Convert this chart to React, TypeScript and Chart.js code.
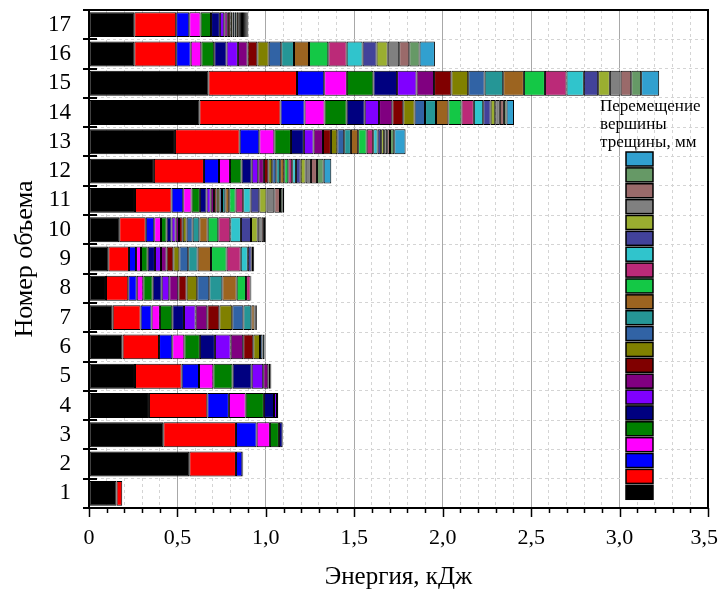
import React, { useEffect, useRef } from 'react';
import { Chart, registerables } from 'chart.js';

Chart.register(...registerables);

// ---- data -------------------------------------------------------------
const volumeLabels = ['1', '2', '3', '4', '5', '6', '7', '8', '9', '10', '11', '12', '13', '14', '15', '16', '17'];

const xTickValues = [
  0, 0.1, 0.2, 0.3, 0.4, 0.5, 0.6, 0.7, 0.8, 0.9,
  1.0, 1.1, 1.2, 1.3, 1.4, 1.5, 1.6, 1.7, 1.8, 1.9,
  2.0, 2.1, 2.2, 2.3, 2.4, 2.5, 2.6, 2.7, 2.8, 2.9,
  3.0, 3.1, 3.2, 3.3, 3.4, 3.5,
];

const xAxisTitle = 'Энергия, кДж';
const yAxisTitle = 'Номер объема';
const legendTitleLines = ['Перемещение', 'вершины', 'трещины, мм'];

const seriesColors = [
  '#000000', '#ff0000', '#0000ff', '#ff00ff', '#008000', '#000080',
  '#8000ff', '#800080', '#800000', '#808000', '#3163a5', '#259696',
  '#9c6420', '#14c846', '#bb2a78', '#30c4cc', '#42429a', '#9aae30',
  '#808080', '#9a6a6a', '#669966', '#31a0cf',
];

// energy (kJ) of each crack-tip displacement step, per volume 1..17
const s01 = [0.156, 0.567, 0.420, 0.339, 0.260, 0.190, 0.134, 0.096, 0.109, 0.171, 0.260, 0.367, 0.486, 0.624, 0.675, 0.256, 0.256];
const s02 = [0.032, 0.264, 0.411, 0.330, 0.264, 0.206, 0.158, 0.126, 0.117, 0.150, 0.207, 0.283, 0.366, 0.459, 0.501, 0.237, 0.237];
const s03 = [0, 0.036, 0.117, 0.122, 0.098, 0.075, 0.062, 0.048, 0.040, 0.048, 0.066, 0.085, 0.111, 0.136, 0.154, 0.082, 0.074];
const s04 = [0, 0.005, 0.075, 0.095, 0.081, 0.068, 0.047, 0.037, 0.028, 0.038, 0.047, 0.062, 0.085, 0.113, 0.128, 0.060, 0.064];
const s05 = [0, 0, 0.051, 0.103, 0.109, 0.088, 0.070, 0.053, 0.038, 0.032, 0.047, 0.066, 0.094, 0.125, 0.150, 0.073, 0.059];
const s06 = [0, 0, 0.021, 0.057, 0.108, 0.085, 0.066, 0.051, 0.041, 0.028, 0.038, 0.057, 0.073, 0.102, 0.134, 0.070, 0.050];
const s07 = [0, 0, 0, 0.017, 0.065, 0.089, 0.066, 0.043, 0.034, 0.023, 0.023, 0.037, 0.055, 0.081, 0.110, 0.064, 0.025];
const s08 = [0, 0, 0, 0.007, 0.029, 0.071, 0.066, 0.051, 0.032, 0.019, 0.019, 0.032, 0.053, 0.075, 0.099, 0.055, 0.020];
const s09 = [0, 0, 0, 0, 0.011, 0.057, 0.068, 0.047, 0.038, 0.021, 0.015, 0.025, 0.045, 0.062, 0.098, 0.055, 0.014];
const s10 = [0, 0, 0, 0, 0.006, 0.038, 0.073, 0.060, 0.034, 0.022, 0.015, 0.022, 0.036, 0.064, 0.095, 0.064, 0.012];
const s11 = [0, 0, 0, 0, 0, 0.014, 0.063, 0.068, 0.050, 0.034, 0.015, 0.023, 0.039, 0.059, 0.093, 0.071, 0.012];
const s12 = [0, 0, 0, 0, 0, 0.012, 0.045, 0.074, 0.053, 0.038, 0.019, 0.022, 0.038, 0.062, 0.105, 0.072, 0.012];
const s13 = [0, 0, 0, 0, 0, 0, 0.018, 0.081, 0.076, 0.047, 0.022, 0.023, 0.041, 0.070, 0.117, 0.085, 0.012];
const s14 = [0, 0, 0, 0, 0, 0, 0.007, 0.053, 0.088, 0.060, 0.036, 0.023, 0.048, 0.074, 0.119, 0.109, 0.006];
const s15 = [0, 0, 0, 0, 0, 0, 0.006, 0.026, 0.080, 0.068, 0.043, 0.022, 0.037, 0.070, 0.122, 0.104, 0.006];
const s16 = [0, 0, 0, 0, 0, 0, 0, 0.004, 0.040, 0.060, 0.042, 0.021, 0.025, 0.053, 0.098, 0.090, 0.006];
const s17 = [0, 0, 0, 0, 0, 0, 0, 0, 0.022, 0.057, 0.049, 0.027, 0.020, 0.042, 0.081, 0.079, 0.006];
const s18 = [0, 0, 0, 0, 0, 0, 0, 0, 0.008, 0.038, 0.041, 0.028, 0.017, 0.026, 0.066, 0.063, 0.006];
const s19 = [0, 0, 0, 0, 0, 0, 0, 0, 0.006, 0.022, 0.044, 0.030, 0.017, 0.026, 0.061, 0.065, 0.006];
const s20 = [0, 0, 0, 0, 0, 0, 0, 0, 0, 0.013, 0.032, 0.034, 0.016, 0.023, 0.060, 0.057, 0.006];
const s21 = [0, 0, 0, 0, 0, 0, 0, 0, 0, 0.006, 0.013, 0.038, 0.024, 0.015, 0.056, 0.058, 0.006];
const s22 = [0, 0, 0, 0, 0, 0, 0, 0, 0, 0.004, 0.011, 0.043, 0.064, 0.042, 0.102, 0.087, 0.006];

const allSeries = [s01, s02, s03, s04, s05, s06, s07, s08, s09, s10, s11, s12, s13, s14, s15, s16, s17, s18, s19, s20, s21, s22];

// ---- chart ------------------------------------------------------------
const FONT = "'Liberation Serif', 'Times New Roman', serif";

const isMajor = (v: number) => Math.round(v * 10) % 5 === 0;

const formatTick = (v: number) => {
  const r = Math.round(v * 10);
  if (r % 5 !== 0) return '';
  if (r === 0) return '0';
  return (r / 10).toFixed(1).replace('.', ',');
};

const zeroPadding = (scale: any) => {
  scale.paddingLeft = 0;
  scale.paddingRight = 0;
  scale.paddingTop = 0;
  scale.paddingBottom = 0;
};

const decorPlugin = {
  id: 'decor',
  afterDraw(chart: any) {
    const { ctx, chartArea: a, scales, width } = chart;
    const xs = scales.x;
    const ys = scales.y;
    ctx.save();
    ctx.strokeStyle = '#000';
    ctx.lineWidth = 1.5;
    // x tick marks + labels
    ctx.fillStyle = '#000';
    ctx.font = `22px ${FONT}`;
    ctx.textBaseline = 'middle';
    ctx.textAlign = 'left';
    xs.ticks.forEach((t: any) => {
      const raw = xs.getPixelForValue(t.value);
      const px = Math.round(raw) + 0.5;
      ctx.beginPath();
      ctx.moveTo(px, a.bottom);
      ctx.lineTo(px, a.bottom + (isMajor(t.value) ? 9 : 5));
      ctx.stroke();
      const label = formatTick(t.value);
      if (label) {
        const w = ctx.measureText(label).width;
        let lx = raw - w / 2;
        if (lx + w > width - 2) lx = width - 2 - w;
        ctx.fillText(label, lx, 538);
      }
    });
    // y tick marks at category boundaries
    ctx.lineWidth = 2;
    for (let i = 0; i <= volumeLabels.length; i++) {
      const py = Math.round(ys.getPixelForValue(i - 0.5));
      ctx.beginPath();
      ctx.moveTo(a.left - 6, py);
      ctx.lineTo(a.left + 8, py);
      ctx.stroke();
    }
    // frame
    ctx.lineWidth = 2;
    ctx.strokeRect(a.left, a.top, a.right - a.left, a.bottom - a.top);

    // legend
    const lx = 626;
    const lw = 27;
    const top = 152;
    const pitch = 15.87;
    const sh = 14;
    ctx.fillStyle = '#fff';
    ctx.fillRect(lx - 5, top - 2, lw + 10, pitch * seriesColors.length + 2);
    for (let i = 0; i < seriesColors.length; i++) {
      const idx = seriesColors.length - 1 - i;
      const y = top + i * pitch;
      ctx.fillStyle = seriesColors[idx];
      ctx.fillRect(lx, y, lw, sh);
      ctx.lineWidth = 1.5;
      ctx.strokeStyle = '#000';
      ctx.strokeRect(lx, y, lw, sh);
    }
    ctx.fillStyle = '#000';
    ctx.font = `17px ${FONT}`;
    ctx.textAlign = 'left';
    ctx.textBaseline = 'alphabetic';
    legendTitleLines.forEach((line, i) => {
      ctx.fillText(line, 600, 111 + i * 18);
    });
    ctx.restore();
  },
};

export default function App() {
  const ref = useRef<HTMLCanvasElement | null>(null);

  useEffect(() => {
    if (!ref.current) return;
    const datasets = allSeries.map((arr, i) => ({
      label: `s${i + 1}`,
      data: arr.map((v) => (v === 0 ? null : v)),
      backgroundColor: seriesColors[i],
      borderColor: '#000',
      borderWidth: 1,
      borderSkipped: false as any,
      categoryPercentage: 1,
      barPercentage: 0.85,
    }));

    const chart = new Chart(ref.current, {
      type: 'bar',
      data: { labels: volumeLabels, datasets },
      plugins: [decorPlugin],
      options: {
        indexAxis: 'y',
        animation: false,
        responsive: false,
        maintainAspectRatio: false,
        layout: { padding: { top: 10, right: 12, left: 0, bottom: 0 } },
        plugins: {
          legend: { display: false },
          tooltip: { enabled: false },
        },
        scales: {
          x: {
            type: 'linear',
            stacked: true,
            min: 0,
            max: 3.5,
            afterBuildTicks: (scale: any) => {
              scale.ticks = xTickValues.map((v) => ({ value: v }));
            },
            afterFit: (scale: any) => {
              scale.height = 82;
              zeroPadding(scale);
            },
            ticks: {
              display: false,
              autoSkip: false,
            },
            grid: {
              drawTicks: false,
              color: (c: any) => (c.tick && isMajor(c.tick.value) ? '#a8a8a8' : '#d4d4d4'),
              lineWidth: 1,
            },
            border: {
              display: false,
              dash: (c: any) => (c.tick && isMajor(c.tick.value) ? [] : [3, 3]),
            },
            title: {
              display: true,
              text: xAxisTitle,
              color: '#000',
              font: { family: FONT, size: 25, lineHeight: 1 },
              padding: { top: 0, bottom: 0 },
            },
          },
          y: {
            type: 'category',
            stacked: true,
            reverse: true,
            afterFit: (scale: any) => {
              scale.width = 89;
              zeroPadding(scale);
            },
            ticks: {
              autoSkip: false,
              padding: 18,
              color: '#000',
              font: { family: FONT, size: 23 },
            },
            grid: {
              drawTicks: false,
              offset: true,
              color: '#d4d4d4',
              lineWidth: 1,
            },
            border: {
              display: false,
              dash: [3, 3],
            },
            title: {
              display: true,
              text: yAxisTitle,
              color: '#000',
              font: { family: FONT, size: 26, lineHeight: 1 },
              padding: { top: 12, bottom: 0 },
            },
          },
        },
      },
    } as any);

    return () => chart.destroy();
  }, []);

  return (
    <div style={{ position: 'fixed', left: 0, top: 0, width: 720, height: 590, background: '#fff' }}>
      <canvas ref={ref} width={720} height={590} style={{ width: 720, height: 590, display: 'block' }} />
    </div>
  );
}
